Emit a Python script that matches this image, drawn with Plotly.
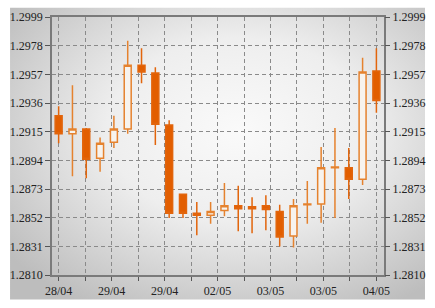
import base64
import plotly.graph_objects as go

# ---- data ----
opens  = [1.29267, 1.29135, 1.29170, 1.28955, 1.29073, 1.29170, 1.29636, 1.29580,
          1.29198, 1.28691, 1.28552, 1.28538, 1.28573, 1.28607, 1.28600, 1.28607,
          1.28566, 1.28385, 1.28614, 1.28621, 1.28885, 1.28885, 1.28802, 1.29594]
highs  = [1.29337, 1.29490, 1.29177, 1.29108, 1.29267, 1.29816, 1.29761, 1.29622,
          1.29233, 1.28691, 1.28635, 1.28635, 1.28774, 1.28753, 1.28670, 1.28684,
          1.28614, 1.28656, 1.28788, 1.29038, 1.29177, 1.29031, 1.29691, 1.29761]
lows   = [1.29066, 1.28823, 1.28809, 1.28857, 1.29031, 1.29135, 1.29504, 1.29052,
          1.28517, 1.28517, 1.28392, 1.28475, 1.28531, 1.28420, 1.28406, 1.28427,
          1.28308, 1.28302, 1.28475, 1.28482, 1.28517, 1.28656, 1.28760, 1.29288]
closes = [1.29135, 1.29170, 1.28948, 1.29066, 1.29170, 1.29636, 1.29587, 1.29205,
          1.28552, 1.28552, 1.28538, 1.28566, 1.28607, 1.28586, 1.28586, 1.28580,
          1.28378, 1.28607, 1.28621, 1.28885, 1.28892, 1.28802, 1.29587, 1.29379]
x_labels = ["28/04", "", "29/04", "", "29/04", "", "02/05", "", "03/05", "", "03/05", "", "04/05"]
y_ticks = [1.2810, 1.2831, 1.2852, 1.2873, 1.2894, 1.2915, 1.2936, 1.2957, 1.2978, 1.2999]
y_labels = ["1.2810", "1.2831", "1.2852", "1.2873", "1.2894", "1.2915", "1.2936", "1.2957", "1.2978", "1.2999"]

n = len(opens)
xs = list(range(n))
x_tickvals = [i * (n - 1) / (len(x_labels) - 1) for i in range(len(x_labels))]

FONT = dict(family="Liberation Serif, Times New Roman, serif", size=12, color="#222222")

fig = go.Figure()
fig.add_trace(go.Candlestick(
    x=xs, open=opens, high=highs, low=lows, close=closes,
    increasing=dict(line=dict(color="#E5822E", width=1.5), fillcolor="#F7F3EE"),
    decreasing=dict(line=dict(color="#E2650C", width=1.5), fillcolor="#E25E00"),
    whiskerwidth=0, hoverinfo="skip", showlegend=False,
))
fig.add_trace(go.Scatter(x=[0], y=[1.29], yaxis="y2", mode="markers",
                         marker=dict(opacity=0), hoverinfo="skip", showlegend=False))

svg = """<svg xmlns='http://www.w3.org/2000/svg' width='435' height='308' viewBox='0 0 435 308'>
<defs><radialGradient id='g' cx='55%' cy='42%' r='70%'>
<stop offset='0%' stop-color='#FAFAFA'/><stop offset='45%' stop-color='#EEEEEE'/>
<stop offset='100%' stop-color='#BDBDBD'/></radialGradient></defs>
<rect width='435' height='308' fill='url(#g)'/></svg>"""
src = "data:image/svg+xml;base64," + base64.b64encode(svg.encode()).decode()

grid = dict(showgrid=True, gridcolor="#8A8A8A", gridwidth=1, griddash="4px,3px")
fig.update_layout(
    width=435, height=308,
    margin=dict(l=44, r=43, t=10, b=26),
    boxgap=0.28,
    paper_bgcolor="rgba(0,0,0,0)", plot_bgcolor="rgba(0,0,0,0)",
    images=[dict(source=src, xref="paper", yref="paper", x=-44/348, y=1+10/272,
                 sizex=435/348, sizey=308/272, xanchor="left", yanchor="top",
                 sizing="stretch", layer="below")],
    font=FONT,
    xaxis=dict(range=[-0.48, 23.55], tickmode="array", tickvals=x_tickvals, ticktext=x_labels,
               ticks="outside", ticklen=4, tickcolor="#555555", showline=True, linecolor="#7A7A7A",
               linewidth=1.5, mirror=True, rangeslider=dict(visible=False), zeroline=False,
               tickfont=FONT, **grid),
    yaxis=dict(range=[1.2810, 1.2999], tickmode="array", tickvals=y_ticks, ticktext=y_labels,
               ticks="outside", ticklen=5, tickcolor="#555555", showline=True, linecolor="#7A7A7A",
               linewidth=1.5, mirror=True, zeroline=False, tickfont=FONT, **grid),
    yaxis2=dict(range=[1.2810, 1.2999], overlaying="y", side="right", tickmode="array",
                tickvals=y_ticks, ticktext=y_labels, ticks="outside", ticklen=5,
                tickcolor="#555555", showgrid=False, zeroline=False, tickfont=FONT),
)
fig.write_html("out.html")
